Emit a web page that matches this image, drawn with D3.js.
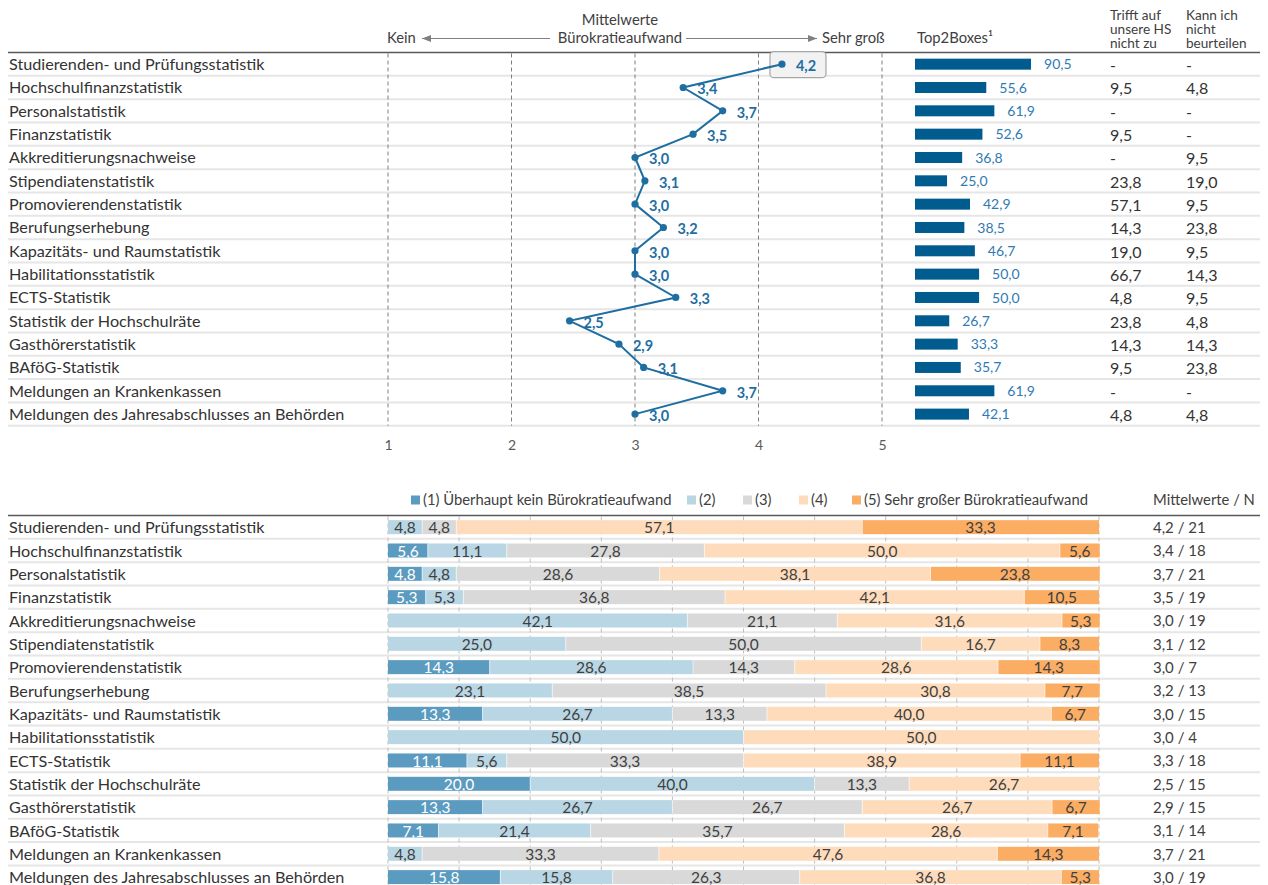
<!DOCTYPE html>
<html><head><meta charset="utf-8">
<script src="https://cdn.jsdelivr.net/npm/d3@7"></script>
<style>
html,body{margin:0;padding:0;background:#fff;}
svg{display:block;}
text{font-family:Lato,"Open Sans",sans-serif;}
</style></head>
<body>
<svg id="chart" width="1268" height="885"></svg>
<script>
// ---------- DATA ----------
const categories = [
  "Studierenden- und Prüfungsstatistik","Hochschulfinanzstatistik","Personalstatistik","Finanzstatistik",
  "Akkreditierungsnachweise","Stipendiatenstatistik","Promovierendenstatistik","Berufungserhebung",
  "Kapazitäts- und Raumstatistik","Habilitationsstatistik","ECTS-Statistik","Statistik der Hochschulräte",
  "Gasthörerstatistik","BAföG-Statistik","Meldungen an Krankenkassen","Meldungen des Jahresabschlusses an Behörden"
];
const means = [4.19,3.39,3.71,3.47,3.00,3.08,3.00,3.23,3.00,3.00,3.33,2.47,2.87,3.07,3.71,3.00];
const top2Boxes = [90.5,55.6,61.9,52.6,36.8,25.0,42.9,38.5,46.7,50.0,50.0,26.7,33.3,35.7,61.9,42.1];
const trifftNicht = ["-","9,5","-","9,5","-","23,8","57,1","14,3","19,0","66,7","4,8","23,8","14,3","9,5","-","4,8"];
const kannNicht  = ["-","4,8","-","-","9,5","19,0","9,5","23,8","9,5","14,3","9,5","4,8","14,3","23,8","-","4,8"];
const share1 = [0,5.6,4.8,5.3,0,0,14.3,0,13.3,0,11.1,20.0,13.3,7.1,0,15.8];
const share2 = [4.8,11.1,4.8,5.3,42.1,25.0,28.6,23.1,26.7,50.0,5.6,40.0,26.7,21.4,4.8,15.8];
const share3 = [4.8,27.8,28.6,36.8,21.1,50.0,14.3,38.5,13.3,0,33.3,13.3,26.7,35.7,33.3,26.3];
const share4 = [57.1,50.0,38.1,42.1,31.6,16.7,28.6,30.8,40.0,50.0,38.9,26.7,26.7,28.6,47.6,36.8];
const share5 = [33.3,5.6,23.8,10.5,5.3,8.3,14.3,7.7,6.7,0,11.1,0,6.7,7.1,14.3,5.3];
const respondents = [21,18,21,19,19,12,7,13,15,4,18,15,15,14,21,19];
const meanTicks = [1,2,3,4,5];
const legendLabels = ["(1) Überhaupt kein Bürokratieaufwand","(2)","(3)","(4)","(5) Sehr großer Bürokratieaufwand"];
const col1Header = ["Trifft auf","unsere HS","nicht zu"];
const col2Header = ["Kann ich","nicht","beurteilen"];

// ---------- LAYOUT ----------
const svg = d3.select("#chart");
const fmt1 = v => d3.format(".1f")(v).replace(".", ",");
const textDark = "#404040";
const lineBlue = "#1f6ea2";
const segColors = ["#5b9bc0","#b8d6e4","#d9d9d9","#fedcbb","#fbad64"];
const rowH = 23.33;
const xL = 8, xR = 1260;
const labelSize = 16.2, hdrSize = 14.8;

// ---- TOP SECTION ----
const topY0 = 52.5;
const yTop = d3.scaleBand().domain(categories).range([topY0, topY0 + rowH*categories.length]);
const xMean = d3.scaleLinear().domain([1,5]).range([388,882]);
const xTop2 = d3.scaleLinear().domain([0,100]).range([915,915+128.2]);

svg.append("g").selectAll("line").data(categories).join("line")
  .attr("x1", xL).attr("x2", xR)
  .attr("y1", d => yTop(d)+yTop.bandwidth()).attr("y2", d => yTop(d)+yTop.bandwidth())
  .attr("stroke", "#e6e6e6").attr("stroke-width", 2);

svg.append("g").selectAll("line").data(meanTicks).join("line")
  .attr("x1", d => xMean(d)).attr("x2", d => xMean(d))
  .attr("y1", topY0+1).attr("y2", yTop.range()[1])
  .attr("stroke", "#7f7f7f").attr("stroke-width", 1).attr("stroke-dasharray", "4,3");

const axisTop = d3.axisBottom(xMean).tickValues(meanTicks).tickSize(0).tickPadding(0).tickFormat(d3.format("d"));
const gAx = svg.append("g").attr("transform", `translate(0,${yTop.range()[1]+14})`).call(axisTop);
gAx.select(".domain").remove();
gAx.selectAll("text").attr("font-size", 14).attr("fill", "#595959").attr("font-family","Lato,sans-serif");

svg.append("line").attr("x1", xL).attr("x2", xR).attr("y1", topY0).attr("y2", topY0)
  .attr("stroke", "#595959").attr("stroke-width", 1.5);

const hdr = svg.append("g").attr("font-size", hdrSize).attr("fill", textDark);
hdr.append("text").attr("x", 620).attr("y", 25).attr("text-anchor","middle").text("Mittelwerte");
hdr.append("text").attr("x", 620).attr("y", 43).attr("text-anchor","middle").text("Bürokratieaufwand");
hdr.append("text").attr("x", 387).attr("y", 43).text("Kein");
hdr.append("text").attr("x", 822).attr("y", 43).text("Sehr groß");
hdr.append("text").attr("x", 917).attr("y", 43).text("Top2Boxes¹");
const colHdr = svg.append("g").attr("font-size", 13.6).attr("fill", textDark);
col1Header.forEach((t,i)=>colHdr.append("text").attr("x",1110).attr("y",19.5+i*14.2).text(t));
col2Header.forEach((t,i)=>colHdr.append("text").attr("x",1186).attr("y",19.5+i*14.2).text(t));
const defs = svg.append("defs");
defs.append("marker").attr("id","arr").attr("viewBox","0 0 10 10").attr("refX",10).attr("refY",5)
  .attr("markerWidth",9).attr("markerHeight",9).attr("markerUnits","userSpaceOnUse").attr("orient","auto")
  .append("path").attr("d","M0,1 L10,5 L0,9 Z").attr("fill","#808080");
svg.append("line").attr("x1",550).attr("x2",422).attr("y1",38.5).attr("y2",38.5)
  .attr("stroke","#808080").attr("stroke-width",1).attr("marker-end","url(#arr)");
svg.append("line").attr("x1",686).attr("x2",817).attr("y1",38.5).attr("y2",38.5)
  .attr("stroke","#808080").attr("stroke-width",1).attr("marker-end","url(#arr)");

svg.append("g").selectAll("text").data(categories).join("text")
  .attr("x", 9).attr("y", d => yTop(d)+yTop.bandwidth()/2).attr("dy","0.36em")
  .attr("font-size", labelSize).attr("fill", "#333").text(d => d);

const maxIdx = d3.maxIndex(means);
const cy = i => yTop(categories[i]) + yTop.bandwidth()/2;
svg.append("rect")
  .attr("x", xMean(means[maxIdx]) - 12).attr("y", cy(maxIdx) - 12.5)
  .attr("width", 56).attr("height", 26).attr("rx", 4)
  .attr("fill", "#f2f2f2").attr("stroke", "#a6a6a6").attr("stroke-width", 1.2);

const lineGen = d3.line().x(d=>xMean(d)).y((d,i)=>cy(i));
svg.append("path").datum(means).attr("d", lineGen).attr("fill","none")
  .attr("stroke", lineBlue).attr("stroke-width", 2);
svg.append("g").selectAll("circle").data(means).join("circle")
  .attr("cx", d => xMean(d)).attr("cy", (d,i)=>cy(i)).attr("r", 3.6).attr("fill", lineBlue);
svg.append("g").selectAll("text").data(means).join("text")
  .attr("x", d => xMean(d) + 14).attr("y", (d,i)=>cy(i)+1.5).attr("dy","0.36em")
  .attr("font-size", 14.5).attr("font-weight", "bold").attr("fill", lineBlue)
  .text(d=>fmt1(d));

svg.append("g").selectAll("rect").data(top2Boxes).join("rect")
  .attr("x", xTop2(0)).attr("y", (d,i)=>cy(i)-5.5).attr("height", 11)
  .attr("width", d => xTop2(d)-xTop2(0)).attr("fill", "#005b8f");
svg.append("g").selectAll("text").data(top2Boxes).join("text")
  .attr("x", d => xTop2(d) + 13).attr("y", (d,i)=>cy(i)).attr("dy","0.36em")
  .attr("font-size", 14).attr("fill", "#2f7ab3").text(d => fmt1(d));

svg.append("g").selectAll("text").data(trifftNicht).join("text")
  .attr("x", 1110).attr("y",(d,i)=>cy(i)+1).attr("dy","0.36em")
  .attr("font-size", 16).attr("fill", "#333").text(d=>d);
svg.append("g").selectAll("text").data(kannNicht).join("text")
  .attr("x", 1186).attr("y",(d,i)=>cy(i)+1).attr("dy","0.36em")
  .attr("font-size", 16).attr("fill", "#333").text(d=>d);

// ---- BOTTOM SECTION ----
const botY0 = 515.5;
const yBot = d3.scaleBand().domain(categories).range([botY0, botY0 + rowH*categories.length]);
const xPct = d3.scaleLinear().domain([0,100]).range([388,1099]);
const by = i => yBot(categories[i]) + yBot.bandwidth()/2;

svg.append("g").selectAll("line").data(categories).join("line")
  .attr("x1", xL).attr("x2", xR)
  .attr("y1", d => yBot(d)+yBot.bandwidth()).attr("y2", d => yBot(d)+yBot.bandwidth())
  .attr("stroke", "#e6e6e6").attr("stroke-width", 2);
svg.append("g").selectAll("line").data(d3.range(0,101,10)).join("line")
  .attr("x1", d=>xPct(d)).attr("x2", d=>xPct(d)).attr("y1", botY0+1).attr("y2", 885)
  .attr("stroke", "#bfbfbf").attr("stroke-width", 1).attr("stroke-dasharray","4,3");
svg.append("line").attr("x1", xL).attr("x2", xR).attr("y1", botY0).attr("y2", botY0)
  .attr("stroke", "#595959").attr("stroke-width", 1.5);

const rows = categories.map((c,i)=>({cat:c, s1:share1[i], s2:share2[i], s3:share3[i], s4:share4[i], s5:share5[i]}));
const keys = ["s1","s2","s3","s4","s5"];
const stack = d3.stack().keys(keys)(rows);
const gStack = svg.append("g");
stack.forEach((layer, k) => {
  const g = gStack.append("g");
  g.selectAll("rect").data(layer).join("rect")
    .attr("x", d => xPct(d[0])).attr("width", d => Math.max(0, xPct(d[1])-xPct(d[0])))
    .attr("y", (d,i)=>by(i)-7).attr("height", 14)
    .attr("fill", segColors[k]);
  g.selectAll("text").data(layer.filter(d => d[1]-d[0] > 0)).join("text")
    .attr("x", d => (xPct(d[0])+xPct(d[1]))/2)
    .attr("y", d => by(categories.indexOf(d.data.cat))+0.5).attr("dy","0.36em")
    .attr("text-anchor","middle").attr("font-size", 15.5)
    .attr("fill", k===0 ? "#ffffff" : textDark)
    .text(d => fmt1(d[1]-d[0]));
});
gStack.selectAll("line.sep").data(stack.slice(0,4).flatMap(l=>l.map((d,i)=>({x:d[1],i, w:d[1]-d[0]})))).join("line")
  .attr("class","sep")
  .attr("x1", d=>xPct(d.x)).attr("x2", d=>xPct(d.x))
  .attr("y1", d=>by(d.i)-7).attr("y2", d=>by(d.i)+7)
  .attr("stroke","#fff").attr("stroke-width",0.6)
  .attr("display", d => (d.w>0 && d.x<99.9) ? null : "none");

svg.append("g").selectAll("text").data(categories).join("text")
  .attr("x", 9).attr("y", (d,i)=>by(i)+0.5).attr("dy","0.36em")
  .attr("font-size", labelSize).attr("fill", "#333").text(d => d);

svg.append("g").selectAll("text").data(respondents).join("text")
  .attr("x", 1153).attr("y", (d,i)=>by(i)+0.5).attr("dy","0.36em")
  .attr("font-size", 15).attr("fill", textDark)
  .text((d,i)=> `${fmt1(means[i])} / ${d}`);

const legX = [411, 687, 743, 799, 852];
const gLeg = svg.append("g");
legendLabels.forEach((t,k)=>{
  gLeg.append("rect").attr("x", legX[k]).attr("y", 495.5).attr("width", 9).attr("height", 9).attr("fill", segColors[k]);
  gLeg.append("text").attr("x", legX[k]+12).attr("y", 500).attr("dy","0.36em")
    .attr("font-size", hdrSize).attr("fill", textDark).text(t);
});
gLeg.append("text").attr("x", 1153).attr("y", 500).attr("dy","0.36em")
  .attr("font-size", hdrSize).attr("fill", textDark).text("Mittelwerte / N");
</script>
</body></html>
